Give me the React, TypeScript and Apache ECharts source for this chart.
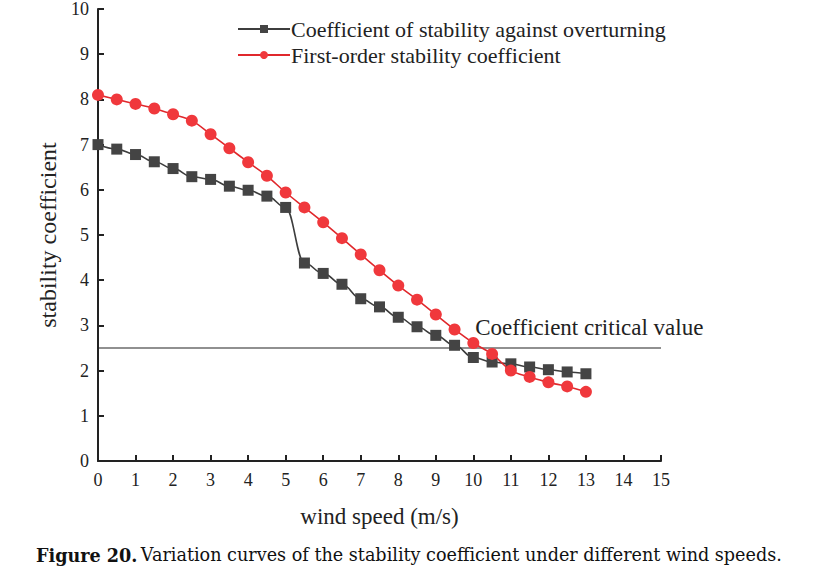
import React, { useEffect, useRef } from "react";
import * as echarts from "echarts";

const windSpeeds = [0, 0.5, 1, 1.5, 2, 2.5, 3, 3.5, 4, 4.5, 5, 5.5, 6, 6.5, 7, 7.5, 8, 8.5, 9, 9.5, 10, 10.5, 11, 11.5, 12, 12.5, 13];
const overturning = [7.0, 6.9, 6.78, 6.62, 6.47, 6.29, 6.23, 6.08, 5.99, 5.86, 5.61, 4.38, 4.15, 3.91, 3.59, 3.41, 3.18, 2.97, 2.78, 2.56, 2.29, 2.19, 2.15, 2.08, 2.02, 1.97, 1.93];
const firstOrder = [8.1, 8.0, 7.9, 7.8, 7.67, 7.53, 7.23, 6.92, 6.61, 6.31, 5.94, 5.61, 5.28, 4.93, 4.57, 4.22, 3.88, 3.57, 3.24, 2.91, 2.61, 2.37, 2.0, 1.86, 1.74, 1.65, 1.53];
const criticalValue = 2.5;
const xRange = [0, 15];
const yRange = [0, 10];
const seriesNames = ["Coefficient of stability against overturning", "First-order stability coefficient"];
const criticalLabel = "Coefficient critical value";
const xTitle = "wind speed (m/s)";
const yTitle = "stability coefficient";

const FONT = "'Liberation Serif', 'Times New Roman', serif";
const CAPTION_FONT = "'DejaVu Serif', serif";

export default function App() {
  const ref = useRef<HTMLDivElement>(null);
  useEffect(() => {
    if (!ref.current) return;
    const chart = echarts.init(ref.current, null, { renderer: "svg" });
    const axisCommon = {
      axisLine: { show: true, onZero: false, lineStyle: { color: "#222", width: 2 } },
      axisTick: { show: true, inside: true, length: 6, lineStyle: { color: "#222", width: 2 } },
      splitLine: { show: false },
      axisLabel: { color: "#222", fontFamily: FONT, fontSize: 18 },
    };
    chart.setOption({
      animation: false,
      backgroundColor: "#fff",
      textStyle: { fontFamily: FONT },
      grid: { left: 98, right: 154, top: 7, bottom: 112, containLabel: false },
      legend: {
        orient: "vertical",
        left: 232,
        top: 13,
        itemWidth: 52,
        itemHeight: 10,
        itemGap: 4,
        textStyle: { fontFamily: FONT, fontSize: 22, color: "#222", padding: [0, 0, 0, -4] },
        data: seriesNames,
      },
      xAxis: {
        type: "value",
        min: xRange[0],
        max: xRange[1],
        interval: 1,
        ...axisCommon,
        axisLabel: { ...axisCommon.axisLabel, margin: 10 },
        name: xTitle,
        nameLocation: "middle",
        nameGap: 44,
        nameTextStyle: { fontFamily: FONT, fontSize: 23, color: "#222" },
      },
      yAxis: {
        type: "value",
        min: yRange[0],
        max: yRange[1],
        interval: 1,
        ...axisCommon,
        axisLabel: { ...axisCommon.axisLabel, margin: 9 },
        name: yTitle,
        nameLocation: "middle",
        nameGap: 29,
        nameTextStyle: { fontFamily: FONT, fontSize: 24, color: "#222" },
      },
      series: [
        {
          name: seriesNames[0],
          type: "line",
          data: windSpeeds.map((x, i) => [x, overturning[i]]),
          smooth: 0.4,
          smoothMonotone: "x",
          symbol: "rect",
          symbolSize: 11,
          lineStyle: { color: "#3d3d3d", width: 1.6 },
          itemStyle: { color: "#444" },
          z: 3,
        },
        {
          name: seriesNames[1],
          type: "line",
          data: windSpeeds.map((x, i) => [x, firstOrder[i]]),
          smooth: 0.3,
          symbol: "circle",
          symbolSize: 12,
          lineStyle: { color: "#e0282c", width: 1.6 },
          itemStyle: { color: "#f0383c" },
          z: 4,
        },
        {
          name: "critical",
          type: "line",
          data: [[xRange[0], criticalValue], [xRange[1], criticalValue]],
          symbol: "none",
          lineStyle: { color: "#222", width: 1.2 },
          z: 2,
          markPoint: {
            symbol: "circle",
            symbolSize: 0,
            data: [{ coord: [10.05, criticalValue + 0.45], value: 0 }],
            label: {
              show: true,
              position: "right",
              distance: 0,
              formatter: criticalLabel,
              fontFamily: FONT,
              fontSize: 23,
              color: "#222",
            },
          },
        },
      ],
      graphic: [
        {
          type: "text",
          left: 36,
          top: 546,
          style: {
            rich: {
              b: { fontFamily: CAPTION_FONT, fontSize: 17.6, fontWeight: "bold", fill: "#111" },
              n: { fontFamily: CAPTION_FONT, fontSize: 17.6, fill: "#111" },
            },
            text: "{b|Figure 20.} {n|Variation curves of the stability coefficient under different wind speeds.}",
          },
        },
      ],
    });
    return () => chart.dispose();
  }, []);
  return <div ref={ref} style={{ position: "fixed", left: 0, top: 0, width: 815, height: 573 }} />;
}
